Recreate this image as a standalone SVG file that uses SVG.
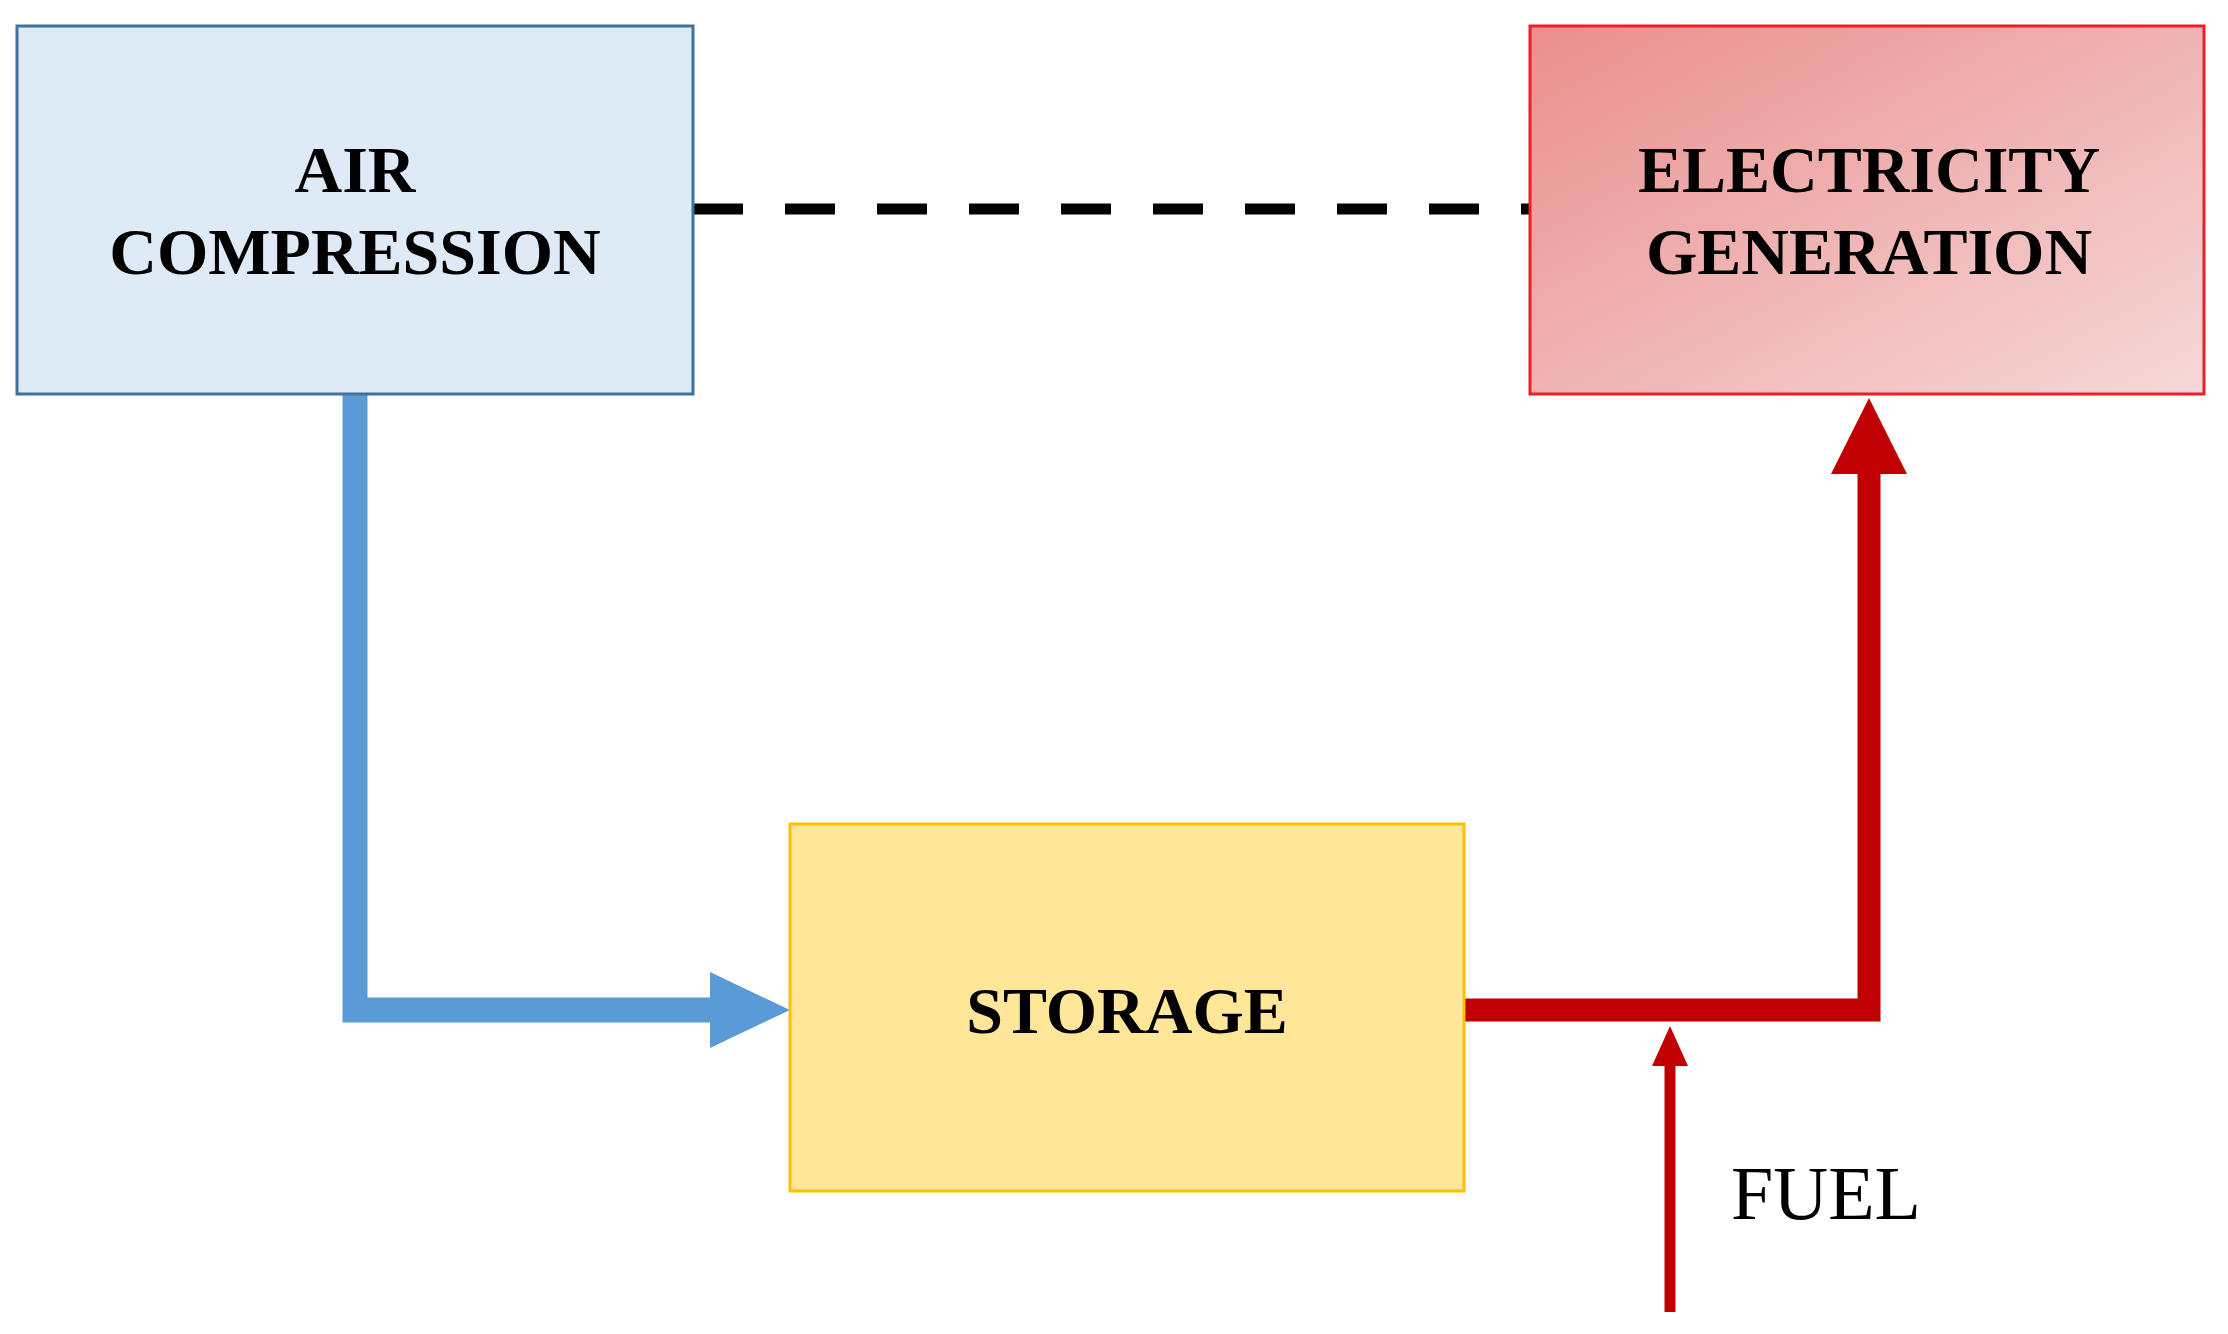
<svg xmlns="http://www.w3.org/2000/svg" width="2228" height="1334" viewBox="0 0 2228 1334">
<style>
.lbl{font-family:"Liberation Serif",serif;font-weight:bold;font-size:66px;fill:#000;text-anchor:middle}
</style>
<defs>
<linearGradient id="g" x1="0" y1="0" x2="1" y2="1">
<stop offset="0" stop-color="#EA8E8E"/><stop offset="1" stop-color="#F6D8D8"/>
</linearGradient>
</defs>
<rect width="2228" height="1334" fill="#fff"/>
<g id="connectors">
<line x1="693" y1="209" x2="1530" y2="209" stroke="#000" stroke-width="11" stroke-dasharray="50,42"/>
<polyline points="355,394 355,1010 712,1010" fill="none" stroke="#5B9BD5" stroke-width="25"/>
<polygon points="710,972 790,1010 710,1048" fill="#5B9BD5"/>
<polyline points="1464,1010 1869,1010 1869,472" fill="none" stroke="#C00000" stroke-width="23"/>
<polygon points="1831,474 1869,398 1907,474" fill="#C00000"/>
<line x1="1670" y1="1312" x2="1670" y2="1060" stroke="#C00000" stroke-width="11"/>
<polygon points="1652,1066 1670,1026 1688,1066" fill="#C00000"/>
</g>
<g id="air">
<rect x="17" y="26" width="676" height="368" fill="#DEEAF6" stroke="#41719C" stroke-width="3"/>
<text class="lbl" x="355" y="192">AIR</text>
<text class="lbl" x="355" y="274">COMPRESSION</text>
</g>
<g id="elec">
<rect x="1530" y="26" width="674" height="368" fill="url(#g)" stroke="#E8202A" stroke-width="3"/>
<text class="lbl" x="1869" y="192">ELECTRICITY</text>
<text class="lbl" x="1869" y="274">GENERATION</text>
</g>
<g id="storage">
<rect x="790" y="824" width="674" height="367" fill="#FFE699" stroke="#FFC000" stroke-width="3"/>
<text class="lbl" x="1127" y="1033">STORAGE</text>
</g>
<g id="fuel">
<text x="1731" y="1219" font-family="Liberation Serif,serif" font-size="76">FUEL</text>
</g>
</svg>
